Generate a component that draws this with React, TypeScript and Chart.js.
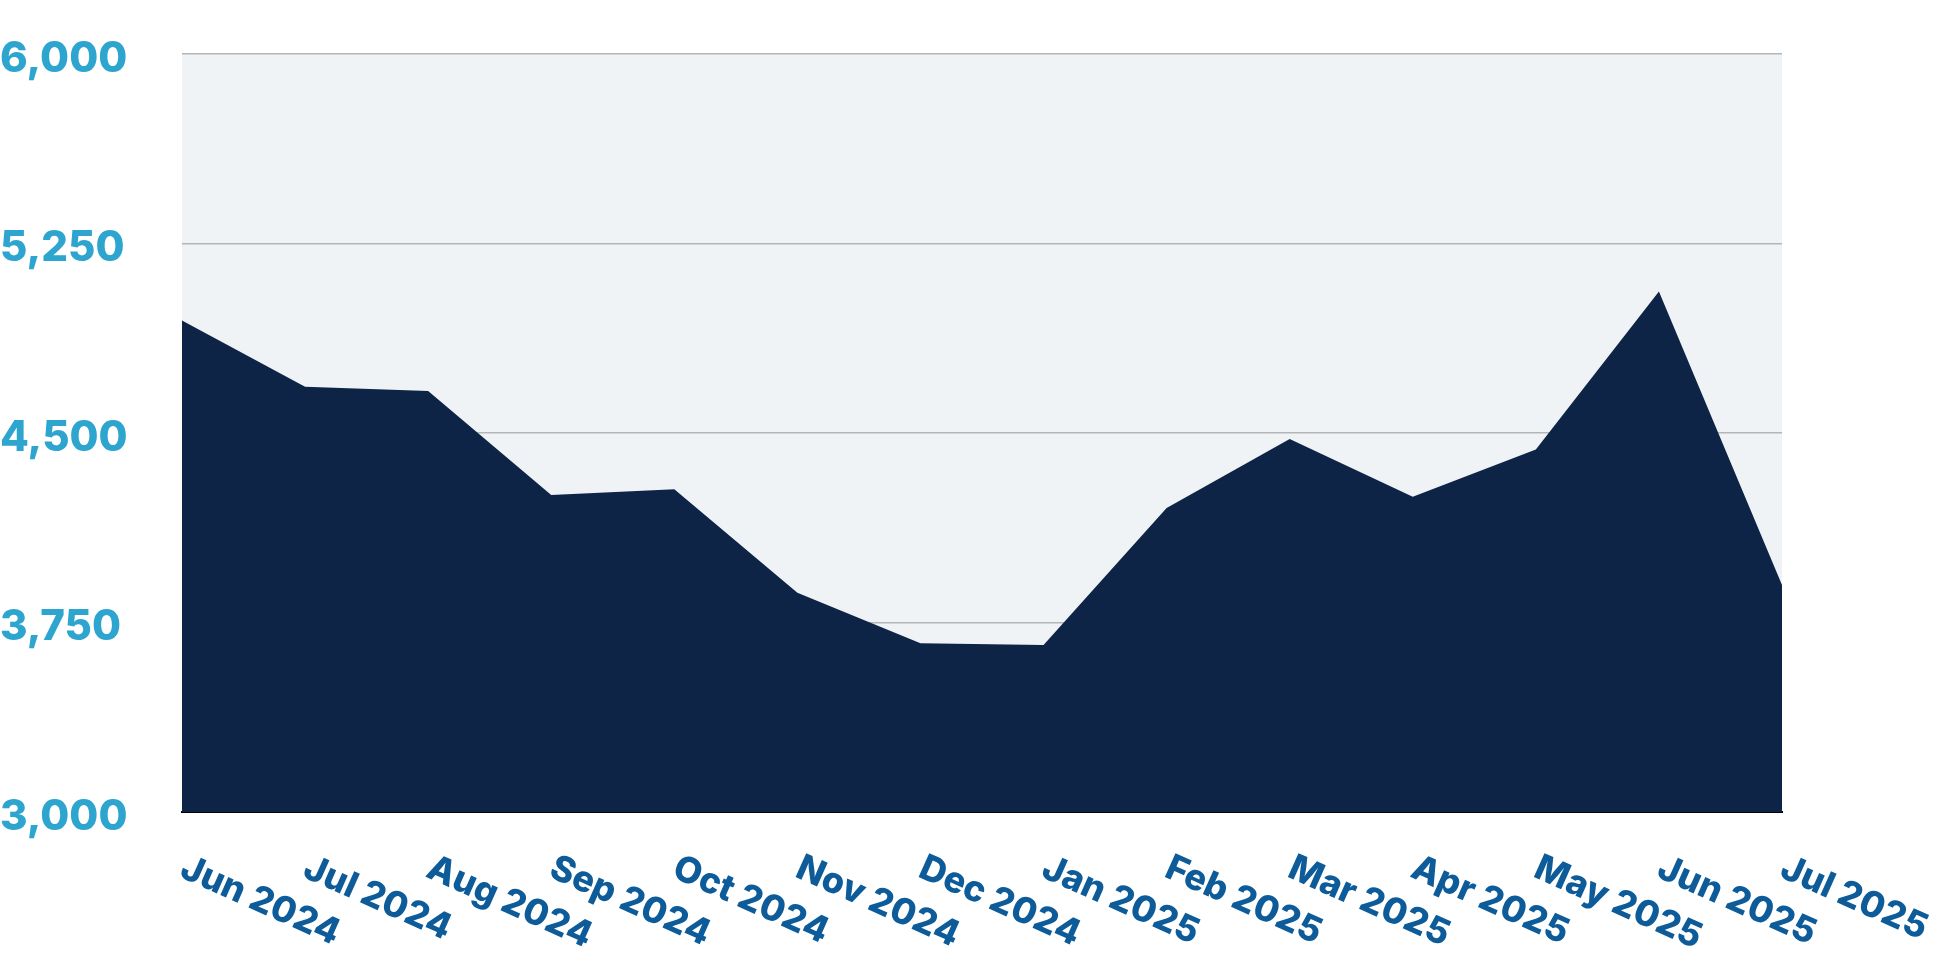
import React, { useEffect, useRef } from "react";
import { Chart, registerables } from "chart.js";

Chart.register(...registerables);

const categories = [
  "Jun 2024", "Jul 2024", "Aug 2024", "Sep 2024", "Oct 2024", "Nov 2024", "Dec 2024",
  "Jan 2025", "Feb 2025", "Mar 2025", "Apr 2025", "May 2025", "Jun 2025", "Jul 2025",
];
const values = [4945, 4683, 4666, 4255, 4277, 3868, 3668, 3661, 4203, 4476, 4248, 4435, 5060, 3898];
const yTicks = [3000, 3750, 4500, 5250, 6000];

const FONT = "Inter, 'Open Sans', sans-serif";

const bgPlugin = {
  id: "plotBg",
  beforeDraw(chart: any) {
    const { ctx, chartArea } = chart;
    ctx.save();
    ctx.fillStyle = "#f0f3f5";
    ctx.fillRect(chartArea.left, chartArea.top, chartArea.right - chartArea.left, chartArea.bottom - chartArea.top);
    ctx.restore();
  },
};

const xLabelPlugin = {
  id: "xLabels",
  afterDraw(chart: any) {
    const { ctx, scales, chartArea } = chart;
    const xs = scales.x;
    ctx.save();
    ctx.font = `800 36px ${FONT}`;
    ctx.fillStyle = "#0d5c99";
    ctx.textAlign = "left";
    ctx.textBaseline = "top";
    categories.forEach((lab, i) => {
      const x = xs.getPixelForTick(i);
      ctx.save();
      ctx.translate(x + 8, chartArea.bottom + 38);
      ctx.rotate((24 * Math.PI) / 180);
      ctx.fillText(lab, 0, 0);
      ctx.restore();
    });
    ctx.restore();
  },
};

export default function App() {
  const ref = useRef<HTMLCanvasElement>(null);
  useEffect(() => {
    const chart = new Chart(ref.current!, {
      type: "line",
      data: {
        labels: categories,
        datasets: [
          {
            data: values,
            backgroundColor: "#0d2447",
            borderColor: "#0d2447",
            borderWidth: 0,
            pointRadius: 0,
            fill: "origin",
            tension: 0,
          },
        ],
      },
      options: {
        responsive: false,
        animation: false,
        layout: { padding: { top: 54, right: 158, bottom: 0, left: 0 } },
        plugins: { legend: { display: false }, tooltip: { enabled: false } },
        scales: {
          x: {
            offset: false,
            grid: { display: false, drawTicks: false },
            border: { display: true, color: "#000000", width: 2 },
            ticks: { display: false },
            afterFit: (s: any) => {
              s.height = 152;
            },
          },
          y: {
            min: 3000,
            max: 6000,
            afterBuildTicks: (s: any) => {
              s.ticks = yTicks.map((v) => ({ value: v }));
            },
            grid: { color: "#b5b5b5", lineWidth: 1.5, drawTicks: false },
            border: { display: false },
            ticks: {
              crossAlign: "far",
              padding: 0,
              labelOffset: 5,
              color: "#2ea5cf",
              font: { family: FONT, size: 42, weight: 800 },
              callback: (v: any) => Number(v).toLocaleString("en-US"),
            },
            afterFit: (s: any) => {
              s.width = 182;
            },
          },
        },
      },
      plugins: [bgPlugin, xLabelPlugin],
    });
    return () => chart.destroy();
  }, []);
  return (
    <div style={{ position: "absolute", left: 0, top: 0, width: 1940, height: 964, background: "#fff" }}>
      <canvas ref={ref} width={1940} height={964} />
    </div>
  );
}
